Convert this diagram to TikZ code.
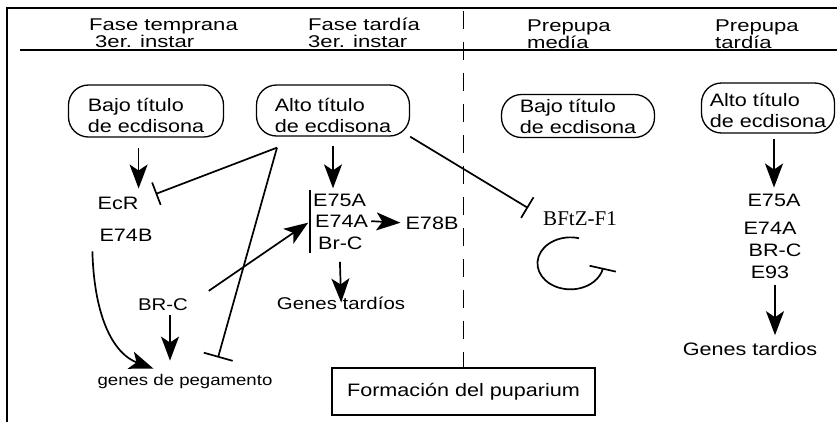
\documentclass[tikz,border=0pt]{standalone}
\usepackage{fontspec}
\setmainfont{Liberation Sans}[FakeStretch=1.2]
\newfontfamily\serifo{Liberation Serif}
\newfontfamily\fasefont{Liberation Sans}[FakeStretch=1.3]
\usetikzlibrary{arrows.meta,fit,positioning}
\newcommand{\titulotxt}[3]{\raisebox{-#1pt}[\height][\depth]{\begin{tabular}{@{}l@{}}#2\\#3\end{tabular}}}
\tikzset{
	gen/.style={inner sep=0pt, font=\fontsize{18}{20}\selectfont},
	fase/.style={anchor=base west, inner sep=0pt, font=\fasefont\fontsize{17}{20}\selectfont},
	titulo/.style={draw, line width=1.3pt, rounded corners=20pt, inner sep=0pt, font=\fontsize{18}{21}\selectfont},
	act/.style={line width=1.7pt, -{Stealth[length=24pt,width=18pt,inset=6pt]}},
	inh/.style={line width=1.7pt, -{Bar[width=24pt]}},
}
\begin{document}
\begin{tikzpicture}[x=1pt,y=-1pt]
	\useasboundingbox (0,0) rectangle (837,426);
	\draw[line width=1.3pt] (7,422) -- (7,8) -- (837,8);
	\draw[line width=1.3pt] (20,50) -- (837,50);

	\node[fase] (f1a) at (89,30.5) {Fase temprana};
	\node[fase] (f1b) at (95,47.5) {3er. instar};
	\node[fase] (f2a) at (308,30.5) {Fase tardía};
	\node[fase] (f2b) at (308,47.5) {3er. instar};
	\node[fase] (f3a) at (527,31.5) {Prepupa};
	\node[fase] (f3b) at (527,48.5) {medía};
	\node[fase] (f4a) at (715,31.5) {Prepupa};
	\node[fase] (f4b) at (715,48.5) {tardía};

	\node[titulo, minimum width=155pt, minimum height=52pt] (bajo1) at (146,111) {\titulotxt{7}{Bajo título}{de ecdisona}};
	\node[titulo, minimum width=153pt, minimum height=51pt] (alto1) at (333,110.5) {\titulotxt{7}{Alto título}{de ecdisona}};
	\node[titulo, minimum width=153pt, minimum height=43pt] (bajo2) at (578,116) {\titulotxt{3}{Bajo título}{de ecdisona}};
	\node[titulo, minimum width=133pt, minimum height=50pt] (alto2) at (768,108) {\titulotxt{5}{Alto título}{de ecdisona}};

	\node[gen] (ecr) at (118,203) {EcR};
	\node[gen] (e74b) at (126,235) {E74B};
	\node[gen, font=\fontsize{17}{20}\selectfont] (brc1) at (163,305) {BR-C};
	\node[gen, font=\fontsize{15.5}{18}\selectfont] (pega) at (185,381) {genes de pegamento};

	\node[gen, anchor=west] (e75a) at (313,200) {E75A};
	\node[gen, anchor=west] (e74a) at (315,221) {E74A};
	\node[gen, anchor=west] (brc2) at (318,243) {Br-C};
	\node[fit=(e75a)(brc2), inner sep=3pt] (grupo) {};
	\node[gen] (e78b) at (432,223) {E78B};
	\node[gen, font=\fontsize{17}{20}\selectfont] (tard1) at (341,303) {Genes tardíos};

	\node[gen, font=\serifo\fontsize{21}{24}\selectfont] (bftz) at (580,219) {BFtZ-F1};

	\node[gen] (e75a2) at (774,200) {E75A};
	\node[gen] (e74a2) at (770,228) {E74A};
	\node[gen] (brc3) at (775,250) {BR-C};
	\node[gen] (e93) at (770,272) {E93};
	\node[gen] (tard2) at (750,349) {Genes tardios};

	\node[draw, line width=1.3pt, inner sep=0pt, minimum width=263pt, minimum height=47pt, font=\fontsize{18}{20}\selectfont] (form) at (463.5,391.5) {Formación del puparium};

	\coordinate (dtop) at (463.5,11);
	\draw[line width=1.7pt, dash pattern=on 18pt off 13pt] (dtop) -- (form.north);

	\coordinate (fork) at ([shift={(-56,11)}]alto1.south);
	\draw[act, shorten <=10pt, shorten >=8pt] (bajo1.south -| ecr.north east) -- (ecr.north east);
	\draw[act, shorten <=9pt, shorten >=2pt] (alto1.south) -- (alto1.south |- grupo.north);
	\draw[line width=1.7pt] (grupo.north west) -- (grupo.south west);
	\draw[act, shorten <=25pt, shorten >=2pt] (brc1.east) -- (grupo.west);
	\draw[act, shorten <=3pt, shorten >=5pt] (e74a.east) -- (e78b.west);
	\draw[act, shorten <=9pt, shorten >=-6pt] (grupo.south) -- (tard1.north);

	\draw[inh] (fork) -- ([shift={(17,-9)}]ecr.east);
	\draw[inh, -{Bar[width=30pt]}] (fork) -- ([shift={(33,-16)}]pega.north);
	\draw[inh] (alto1.south east) -- ([shift={(-15,-11)}]bftz.west);
	\draw[act] ([shift={(-7,10)}]e74b.south west) .. controls +(2,70) and +(-38,-14) .. ([shift={(56,-5)}]pega.north west);
	\draw[act, shorten <=4pt, shorten >=13pt] ([xshift=7pt]brc1.south) -- ([xshift=7pt]brc1.south |- pega.north);
	\draw[inh, -{Bar[width=27pt]}] ([shift={(-1,12)}]bftz.south) arc[start angle=-75, end angle=-350, x radius=33, y radius=26];

	\draw[act, shorten <=5pt, shorten >=6pt] (e75a2.north |- alto2.south) -- (e75a2.north);
	\draw[act, shorten <=6pt, shorten >=7pt] ([xshift=5pt]e93.south) -- ([xshift=5pt]e93.south |- tard2.north);
\end{tikzpicture}
\end{document}
